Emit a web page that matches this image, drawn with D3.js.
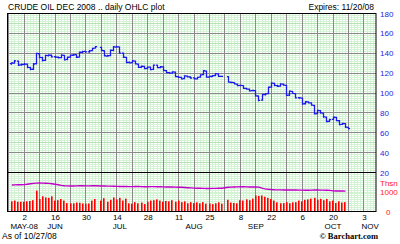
<!DOCTYPE html>
<html>
<head>
<meta charset="utf-8">
<script src="https://cdn.jsdelivr.net/npm/d3@7"></script>
<style>
body{margin:0;background:#fff;}
svg{display:block;font-family:"Liberation Sans",Arial,sans-serif;}
</style>
</head>
<body>
<svg id="plot"></svg>
<script>
const width = 400;
const height = 244;

// trading days run from firstDay to lastDay, weekdays minus exchange holidays
const firstDay = '2008-05-27';
const lastDay = '2008-10-27';
const holidays = ['2008-07-04', '2008-09-01'];

// CLZ8 daily OHLC (May 27 .. Oct 27)
const opens = [
  129.5, 130.0, 132.0, 128.3,
  128.9, 129.0, 125.6, 123.9, 129.5, 139.5, 135.6, 132.9, 137.6, 138.0, 136.6, 136.0, 135.6, 137.9, 133.8, 136.2, 138.0, 138.6, 136.2, 140.8, 141.8,
  141.3, 142.6, 145.2, 146.0, 142.5, 137.2, 137.7, 142.8, 146.2, 146.4, 140.0, 135.8, 130.9, 130.6, 132.1, 129.0, 125.9, 126.7, 124.8, 126.0, 123.8, 128.0,
  125.6, 126.2, 122.5, 120.6, 120.0, 121.0, 116.4, 115.7, 114.5, 117.0, 116.1, 115.2, 114.3, 115.9, 118.5, 122.0, 116.0, 116.6, 117.6, 119.2, 116.8,
  116.5, 110.8, 110.5, 109.0, 107.7, 107.4, 104.7, 103.8, 102.4, 102.3, 97.0, 92.8, 98.3, 99.5, 105.9, 109.7, 107.5, 106.9, 108.9, 107.7, 97.8,
  101.6, 99.4, 95.2, 94.8, 89.2, 91.0, 90.0, 87.6, 79.3, 82.2, 79.8, 75.7, 71.5, 73.5, 75.4, 72.1, 68.4, 69.1, 65.4
];
const highs = [
  131.0, 133.2, 132.6, 129.8,
  130.2, 129.6, 126.3, 130.1, 140.6, 140.2, 136.4, 138.6, 139.0, 138.7, 137.3, 136.7, 138.9, 138.3, 136.7, 138.8, 139.3, 139.0, 141.7, 142.4, 142.5,
  143.2, 145.6, 147.4, 146.6, 142.9, 138.4, 143.7, 147.2, 147.5, 146.8, 140.7, 136.4, 131.6, 133.1, 132.8, 129.7, 127.6, 127.4, 126.6, 126.7, 128.8, 128.5,
  127.1, 126.9, 123.2, 121.2, 122.0, 121.6, 117.1, 116.3, 117.9, 117.6, 116.8, 115.9, 116.4, 118.9, 123.1, 122.6, 117.4, 118.1, 120.1, 119.8, 117.4,
  116.9, 111.4, 110.9, 109.6, 108.4, 107.9, 105.3, 104.5, 103.2, 102.8, 97.6, 99.1, 99.9, 106.5, 110.7, 110.3, 108.2, 109.8, 109.5, 108.2, 102.6,
  101.9, 99.8, 96.0, 95.4, 91.9, 91.6, 90.7, 88.1, 83.1, 83.0, 80.4, 76.3, 74.0, 76.3, 76.1, 72.8, 70.0, 69.8, 66.0
];
const lows = [
  128.4, 129.4, 127.2, 127.5,
  127.8, 125.0, 122.8, 123.2, 128.8, 135.0, 131.8, 132.2, 136.8, 135.6, 135.3, 134.7, 135.0, 132.7, 133.0, 135.5, 137.4, 135.3, 135.6, 140.1, 140.6,
  140.6, 141.9, 144.7, 142.1, 136.8, 136.5, 137.0, 142.1, 145.6, 139.5, 135.3, 130.0, 129.6, 129.9, 128.7, 125.1, 125.2, 124.0, 123.9, 123.0, 123.1, 124.8,
  125.0, 122.0, 119.8, 119.3, 119.4, 115.8, 115.1, 113.6, 113.9, 115.6, 114.4, 113.6, 113.7, 115.3, 117.9, 115.3, 115.4, 116.0, 117.0, 116.2, 116.0,
  110.2, 109.9, 108.6, 106.8, 106.9, 104.0, 103.2, 101.5, 101.8, 96.4, 91.8, 92.2, 97.6, 98.8, 105.2, 106.9, 106.1, 106.2, 107.2, 96.9, 97.1,
  98.9, 94.4, 94.3, 88.3, 88.5, 89.4, 87.1, 78.3, 78.6, 79.2, 75.2, 70.6, 70.8, 72.8, 71.6, 67.5, 67.7, 64.9, 63.6
];
const closes = [
  130.2, 132.4, 128.0, 128.7,
  129.1, 125.7, 123.7, 129.2, 139.9, 135.8, 132.8, 137.9, 138.2, 136.3, 136.1, 135.5, 138.1, 133.4, 136.0, 138.1, 138.4, 136.0, 141.0, 141.6, 141.4,
  142.4, 145.0, 146.7, 142.8, 137.5, 137.5, 143.0, 146.4, 146.5, 140.1, 136.0, 130.7, 130.3, 132.4, 129.3, 125.8, 126.9, 124.6, 126.1, 123.6, 128.1, 125.5,
  126.4, 122.7, 120.5, 119.9, 121.3, 116.5, 115.8, 114.3, 117.3, 116.3, 115.1, 114.2, 115.8, 118.2, 122.4, 115.9, 116.7, 117.5, 119.4, 116.8, 116.7,
  111.0, 110.6, 109.2, 107.5, 107.6, 104.6, 103.9, 102.2, 102.5, 97.1, 92.6, 98.5, 99.2, 105.8, 110.0, 107.6, 106.8, 109.1, 107.9, 97.6, 101.8,
  99.6, 95.1, 95.0, 89.0, 91.2, 90.1, 87.8, 79.0, 82.4, 79.9, 75.9, 71.3, 73.3, 75.6, 72.3, 68.2, 69.3, 65.6, 64.2
];

// volume and open interest, thousands (through Oct 24)
const volumes = [
  520, 560, 500, 500,
  500, 520, 540, 580, 1070, 640, 780, 720, 700, 780, 560, 580, 640, 560, 430, 420, 420, 460, 450, 410, 400,
  410, 560, 640, 560, 680, 500, 600, 720, 620, 700, 560, 660, 420, 400, 480, 420, 460, 380, 500, 560, 580, 620,
  560, 500, 540, 520, 580, 500, 560, 480, 520, 420, 480, 430, 470, 420, 480, 400, 410, 380, 420, 470, 400,
  600, 460, 440, 420, 580, 560, 620, 580, 660, 820, 800, 820, 760, 700, 640, 560, 470, 420, 430, 480, 420,
  470, 480, 560, 520, 600, 620, 660, 700, 600, 650, 580, 640, 520, 560, 440, 520, 460, 480
];
const openInterest = [
  1360, 1365, 1370, 1375,
  1380, 1400, 1420, 1440, 1455, 1460, 1455, 1450, 1440, 1420, 1400, 1370, 1340, 1320, 1315, 1310, 1310, 1315, 1320, 1320, 1315,
  1315, 1320, 1320, 1310, 1305, 1300, 1300, 1295, 1290, 1285, 1280, 1280, 1275, 1275, 1280, 1280, 1275, 1270, 1270, 1275, 1275, 1270,
  1270, 1265, 1260, 1260, 1255, 1250, 1245, 1240, 1230, 1220, 1210, 1200, 1195, 1190, 1185, 1180, 1180, 1185, 1185, 1190, 1195,
  1240, 1250, 1260, 1265, 1270, 1270, 1265, 1260, 1260, 1255, 1250, 1200, 1160, 1140, 1125, 1115, 1110, 1110, 1105, 1105, 1100,
  1100, 1100, 1095, 1095, 1090, 1090, 1095, 1100, 1100, 1095, 1095, 1090, 1085, 1060, 1055, 1050, 1050, 1045
];

const priceTicks = [20, 40, 60, 80, 100, 120, 140, 160, 180];
const tickDates = ['2008-06-02', '2008-06-16', '2008-06-30', '2008-07-14', '2008-07-28', '2008-08-11',
  '2008-08-25', '2008-09-08', '2008-09-22', '2008-10-06', '2008-10-20', '2008-11-03'];
const monthLabels = ['MAY-08', 'JUN', 'JUL', 'AUG', 'SEP', 'OCT', 'NOV'];
const monthDates = ['2008-06-02', '2008-06-16', '2008-07-15', '2008-08-18', '2008-09-15', '2008-10-20', '2008-11-05'];

const title = 'CRUDE OIL DEC 2008 .. daily OHLC plot';
const expires = 'Expires: 11/20/08';
const asOf = 'As of 10/27/08';

const parse = d3.timeParse('%Y-%m-%d');
const fmt = d3.timeFormat('%Y-%m-%d');
const refMonday = parse('2008-06-02');

let svg, sx, sy, sv;
let plotL = 7.5, plotR = 376, plotT = 13.5, plotM = 172.5, plotB = 211.5;


function main(){
  initSvg();
  initScales();
  drawGrid();
  drawVolume();
  drawPrice();
  drawFrame();
  drawAxes();
  drawTexts();
}


// position along the axis counts weekdays only
function wdIndex(d){
  let days = d3.timeDay.count(refMonday, d);
  let wk = Math.floor(days/7);
  return wk*5 + (days - wk*7);
}


function tradingDays(){
  return d3.timeDay.range(parse(firstDay), d3.timeDay.offset(parse(lastDay), 1))
  .filter(d=>d.getDay()>0 && d.getDay()<6 && !holidays.includes(fmt(d)));
}


function initSvg(){
  svg = d3.select('svg#plot')
  .attr('width', width)
  .attr('height', height);
}


function initScales(){
  sx = d3.scaleLinear().domain([-5.4, 113.9]).range([plotL, plotR]);
  sy = d3.scaleLinear().domain([20, 180]).range([plotM, plotT]);
  sv = d3.scaleLinear().domain([0, 1000]).range([plotB, 192]);
}


function crisp(v){
  return Math.round(v - 0.5) + 0.5;
}


function drawGrid(){
  let g = svg.append('g').attr('class', 'grid');
  let minor = '#d4f2d4';

  // minor: one line per weekday
  g.selectAll('.vminor')
  .data(d3.range(-5, 114))
  .enter()
  .append('line')
  .attr('x1', d=>crisp(sx(d)))
  .attr('x2', d=>crisp(sx(d)))
  .attr('y1', plotT)
  .attr('y2', plotB)
  .attr('stroke', minor)
  .attr('stroke-width', 1);

  g.selectAll('.hminor')
  .data(d3.range(22, 180, 2))
  .enter()
  .append('line')
  .attr('x1', plotL)
  .attr('x2', plotR)
  .attr('y1', d=>crisp(sy(d)))
  .attr('y2', d=>crisp(sy(d)))
  .attr('stroke', d=>d%10==0 ? '#b6e2b6' : minor)
  .attr('stroke-width', 1);

  g.selectAll('.vhminor')
  .data(d3.range(100, 2000, 100))
  .enter()
  .append('line')
  .attr('x1', plotL)
  .attr('x2', plotR)
  .attr('y1', d=>crisp(sv(d)))
  .attr('y2', d=>crisp(sv(d)))
  .attr('stroke', minor)
  .attr('stroke-width', 1);

  // major: Mondays and every 20
  g.selectAll('.vmajor')
  .data(d3.range(-5, 114, 5))
  .enter()
  .append('line')
  .attr('x1', d=>crisp(sx(d)))
  .attr('x2', d=>crisp(sx(d)))
  .attr('y1', plotT)
  .attr('y2', plotB)
  .attr('stroke', '#8a8a8a')
  .attr('stroke-width', 1);

  g.selectAll('.hmajor')
  .data(priceTicks.slice(1, -1))
  .enter()
  .append('line')
  .attr('x1', plotL)
  .attr('x2', plotR)
  .attr('y1', d=>crisp(sy(d)))
  .attr('y2', d=>crisp(sy(d)))
  .attr('stroke', '#8a8a8a')
  .attr('stroke-width', 1);
}


function drawVolume(){
  let days = tradingDays().slice(0, volumes.length);

  svg.append('g')
  .selectAll('rect')
  .data(volumes)
  .enter()
  .append('rect')
  .attr('x', (d,i)=>Math.round(sx(wdIndex(days[i]))) - 1)
  .attr('y', d=>sv(d))
  .attr('width', 1.6)
  .attr('height', d=>plotB - sv(d))
  .attr('fill', '#ff0000');

  let line = d3.line()
  .x((d,i)=>sx(wdIndex(days[i])))
  .y(d=>sv(d));

  svg.append('path')
  .datum(openInterest)
  .attr('d', line)
  .attr('fill', 'none')
  .attr('stroke', '#c000c8')
  .attr('stroke-width', 1.4);
}


function drawPrice(){
  let days = tradingDays();

  svg.append('g')
  .selectAll('path')
  .data(closes)
  .enter()
  .append('path')
  .attr('d', (c,i)=>{
    let x = crisp(sx(wdIndex(days[i])));
    return 'M' + x + ',' + sy(highs[i]) + 'V' + sy(lows[i]) +
      'M' + (x-1.6) + ',' + sy(opens[i]) + 'H' + x +
      'M' + x + ',' + sy(c) + 'H' + (x+1.6);
  })
  .attr('fill', 'none')
  .attr('stroke', '#1a1aee')
  .attr('stroke-width', 1.3);
}


function drawFrame(){
  svg.append('rect')
  .attr('x', plotL)
  .attr('y', plotT)
  .attr('width', plotR - plotL)
  .attr('height', plotB - plotT)
  .attr('fill', 'none')
  .attr('stroke', '#000')
  .attr('stroke-width', 1);

  svg.append('line')
  .attr('x1', plotL)
  .attr('x2', plotR)
  .attr('y1', plotM)
  .attr('y2', plotM)
  .attr('stroke', '#000')
  .attr('stroke-width', 1.2);
}


function drawAxes(){
  let yAxis = svg.append('g')
  .attr('transform', `translate(${plotR},0)`)
  .call(d3.axisRight(sy).tickValues(priceTicks).tickSize(0).tickPadding(4));
  yAxis.select('.domain').remove();
  yAxis.selectAll('text')
  .attr('fill', '#2424e0')
  .style('font-size', '8px')
  .style('font-family', '"Liberation Sans",Arial,sans-serif');

  let xAxis = svg.append('g')
  .attr('transform', `translate(0,${plotB})`)
  .call(d3.axisBottom(sx)
    .tickValues(tickDates.map(d=>wdIndex(parse(d))))
    .tickFormat((d,i)=>+tickDates[i].slice(8))
    .tickSize(0)
    .tickPadding(3));
  xAxis.select('.domain').remove();
  xAxis.selectAll('text')
  .attr('fill', '#000')
  .style('font-size', '8px')
  .style('font-family', '"Liberation Sans",Arial,sans-serif');

  svg.append('g')
  .selectAll('text')
  .data(monthLabels)
  .enter()
  .append('text')
  .attr('x', (d,i)=>sx(wdIndex(parse(monthDates[i]))))
  .attr('y', 228.5)
  .attr('text-anchor', 'middle')
  .attr('font-size', 8)
  .text(d=>d);
}


function drawTexts(){
  svg.append('text')
  .attr('x', 8)
  .attr('y', 10)
  .attr('font-size', 8.5)
  .text(title);

  svg.append('text')
  .attr('x', plotR - 2)
  .attr('y', 10)
  .attr('text-anchor', 'end')
  .attr('font-size', 8.5)
  .text(expires);

  let red = '#ff2020';
  svg.append('text').attr('x', 380).attr('y', 186).attr('font-size', 8).attr('fill', red).text('Thsn');
  svg.append('text').attr('x', 380).attr('y', sv(1000) + 3).attr('font-size', 8).attr('fill', red).text('1000');
  svg.append('text').attr('x', 386).attr('y', sv(0) + 3).attr('font-size', 8).attr('fill', red).text('0');

  svg.append('text')
  .attr('x', 2)
  .attr('y', 239)
  .attr('font-size', 8.5)
  .text(asOf);

  svg.append('text')
  .attr('x', 378)
  .attr('y', 239)
  .attr('text-anchor', 'end')
  .attr('font-size', 8.5)
  .attr('font-weight', 'bold')
  .attr('font-family', '"Liberation Serif",serif')
  .text('\u00a9 Barchart.com');
}


document.addEventListener('DOMContentLoaded', main);
</script>
</body>
</html>
